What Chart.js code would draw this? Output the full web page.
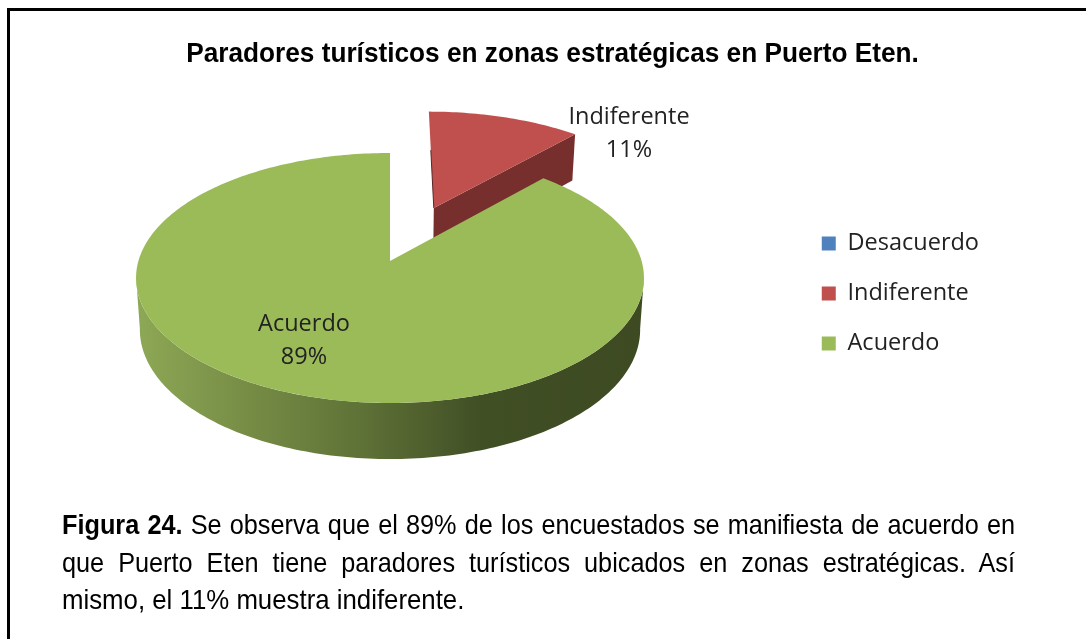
<!DOCTYPE html>
<html lang="es">
<head>
<meta charset="utf-8">
<title>Paradores turísticos</title>
<script src="https://cdn.jsdelivr.net/npm/chart.js@4"></script>
<style>
html,body{margin:0;padding:0;background:#fff;width:1086px;height:639px;overflow:hidden}
#c{position:absolute;left:0;top:0}
#frame{position:absolute;left:7px;top:8px;width:1079px;height:631px;box-sizing:border-box;border-left:3px solid #000;border-top:3px solid #000}
.ln{position:absolute;left:62px;width:1075px;height:36px;font:28.5px/36px "Liberation Sans",Arial,sans-serif;color:#000;transform:scaleX(.8865);transform-origin:0 0;white-space:nowrap}
.j{text-align:justify;text-align-last:justify;white-space:normal}
</style>
</head>
<body>
<canvas id="c" width="1086" height="639"></canvas>
<div id="frame"></div>
<div class="ln j" style="top:506px"><b>Figura 24.</b> Se observa que el 89% de los encuestados se manifiesta de acuerdo en</div>
<div class="ln j" style="top:544px">que Puerto Eten tiene paradores turísticos ubicados en zonas estratégicas. Así</div>
<div class="ln" style="top:581px;transform:scaleX(.905)">mismo, el 11% muestra indiferente.</div>
<script>
const categories = ['Desacuerdo', 'Indiferente', 'Acuerdo'];
const percentages = [0, 11, 89];
const sliceColors = ['#4F81BD', '#C0504D', '#9BBB59'];
const titleText = 'Paradores turísticos en zonas estratégicas en Puerto Eten.';

// 3D view of the pie (perspective disc projection)
const CX = 390, CY = 261, A = 251.6, B = 122.7, P = 0.136, DEPTH = 51, BOTTOM_SCALE = 0.985;
const EXPLODE = [[0, 0], [0.185, 0.459], [0, 0]];
const toRad = Math.PI / 180;
const TITLE_SX = 0.953;
const LABEL_FONT = '23.5px "Open Sans", sans-serif';
const LABEL_POS = [null, [629, 117], [304, 324]];
const warp = a => a + 0.045 * Math.sin(2 * a);
function project(X, Y, z) {
  const w = 1 + P * Y;
  const sx = z ? BOTTOM_SCALE : 1;
  return [CX + A * X / w * sx, CY - B * Y / w + z * DEPTH / (1 + 0.09 * Y)];
}
function rim(i, a, z) {
  const t = warp(a);
  return project(EXPLODE[i][0] + Math.sin(t), EXPLODE[i][1] + Math.cos(t), z);
}
function poly(ctx, pts, fill) {
  ctx.beginPath();
  pts.forEach((p, k) => k ? ctx.lineTo(p[0], p[1]) : ctx.moveTo(p[0], p[1]));
  ctx.closePath();
  ctx.fillStyle = fill;
  ctx.fill();
}
function arcPts(i, a0, a1, z) {
  const n = Math.max(2, Math.ceil(Math.abs(a1 - a0) / toRad));
  const out = [];
  for (let k = 0; k <= n; k++) out.push(rim(i, a0 + (a1 - a0) * k / n, z));
  return out;
}

const pie3d = {
  id: 'pie3d',
  beforeLayout(chart) {
    const t = chart.titleBlock;
    if (t && !t._patched) {
      t._patched = true;
      const d = t.draw;
      t.draw = function () {
        const c = chart.ctx, m = (this.left + this.right) / 2;
        c.save(); c.translate(m, 0); c.scale(TITLE_SX, 1); c.translate(-m, 0);
        d.call(this);
        c.restore();
      };
    }
  },
  beforeDatasetsDraw(chart) {
    const ctx = chart.ctx;
    const arcs = chart.getDatasetMeta(0).data;
    const ang = el => {
      const p = el.getProps(['startAngle', 'endAngle'], true);
      return [p.startAngle + Math.PI / 2, p.endAngle + Math.PI / 2];
    };
    // Indiferente: cut wall then top face
    const [r0, r1] = ang(arcs[1]);
    const apexTop = project(EXPLODE[1][0], EXPLODE[1][1], 0);
    const apexBot = project(EXPLODE[1][0], EXPLODE[1][1], 1);
    poly(ctx, [apexTop, rim(1, r1, 0), rim(1, r1, 1), apexBot], '#772F2D');
    poly(ctx, [apexTop].concat(arcPts(1, r0, r1, 0)), sliceColors[1]);
    // thin dark seam on the hidden cut wall
    const edge = rim(1, r0, 0);
    ctx.beginPath();
    ctx.moveTo(apexTop[0], apexTop[1]);
    ctx.lineTo(apexTop[0] + (edge[0] - apexTop[0]) * 0.6, apexTop[1] + (edge[1] - apexTop[1]) * 0.6);
    ctx.strokeStyle = '#5A2422';
    ctx.lineWidth = 1;
    ctx.stroke();
    // Acuerdo: front wall then top face
    const [g0, g1] = ang(arcs[2]);
    const left = 262 * toRad, right = 98 * toRad;
    const g = ctx.createLinearGradient(140, 0, 640, 0);
    g.addColorStop(0, '#8CA755');
    g.addColorStop(0.22, '#768C45');
    g.addColorStop(0.44, '#5F7237');
    g.addColorStop(0.68, '#414F25');
    g.addColorStop(1, '#3D4A22');
    poly(ctx, arcPts(2, right, left, 0).concat(arcPts(2, left, right, 1)), g);
    poly(ctx, [project(0, 0, 0)].concat(arcPts(2, g0, g1, 0)), sliceColors[2]);
    // Slice labels
    ctx.fillStyle = '#222';
    ctx.font = LABEL_FONT;
    ctx.textAlign = 'center';
    ctx.textBaseline = 'middle';
    LABEL_POS.forEach((p, i) => {
      if (!percentages[i]) return;
      ctx.fillText(categories[i], p[0], p[1]);
      ctx.fillText(percentages[i] + '%', p[0], p[1] + 33);
    });
    return false;
  }
};

new Chart(document.getElementById('c'), {
  type: 'pie',
  data: {
    labels: categories,
    datasets: [{ data: percentages, backgroundColor: sliceColors, borderWidth: 0 }]
  },
  options: {
    responsive: false,
    animation: false,
    layout: { padding: { left: 116, right: 97, top: 38, bottom: 90 } },
    plugins: {
      tooltip: { enabled: false },
      title: {
        display: true,
        text: titleText,
        color: '#000',
        font: { family: '"Liberation Sans", Arial, sans-serif', size: 27.5, weight: 'bold' },
        padding: { top: 0, bottom: 10 }
      },
      legend: {
        position: 'right',
        labels: {
          boxWidth: 14, boxHeight: 14, padding: 26.5,
          color: '#222',
          font: { family: '"Open Sans", sans-serif', size: 23.5 }
        }
      }
    }
  },
  plugins: [pie3d]
});
</script>
</body>
</html>
